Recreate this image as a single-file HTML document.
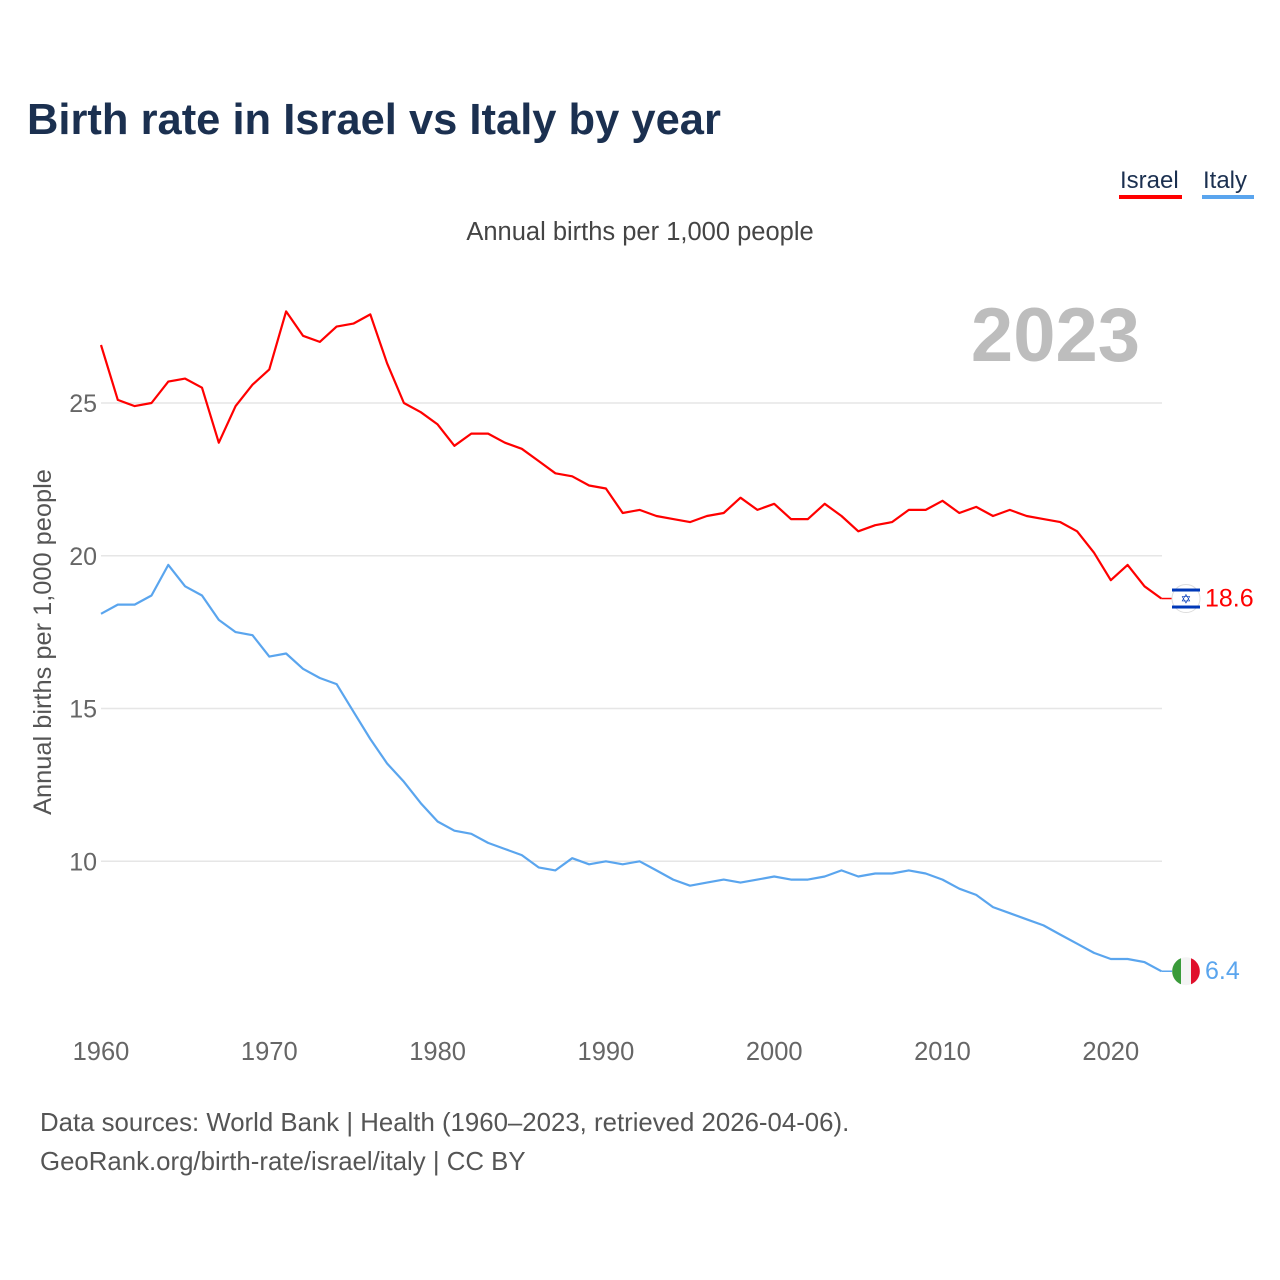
<!DOCTYPE html>
<html><head><meta charset="utf-8"><style>
body{margin:0;background:#fff;font-family:"Liberation Sans",sans-serif}
svg{display:block}
</style></head><body>
<svg id="c" width="1280" height="1280" viewBox="0 0 1280 1280">
<text x="27" y="134" font-size="43.5" font-weight="bold" fill="#1b3050">Birth rate in Israel vs Italy by year</text>
<g>
<text x="1120" y="188" font-size="24" fill="#1b3050">Israel</text>
<rect x="1119" y="195" width="63" height="4" fill="#ff0000"/>
<text x="1203" y="188" font-size="24" fill="#1b3050">Italy</text>
<rect x="1202" y="195" width="52" height="4" fill="#5aa5ee"/>
</g>
<text x="640" y="240" font-size="25.5" fill="#444" text-anchor="middle">Annual births per 1,000 people</text>
<text x="1140" y="361" font-size="76" font-weight="bold" fill="#bdbdbd" text-anchor="end">2023</text>
<text transform="translate(51,642) rotate(-90)" font-size="25.4" fill="#555" text-anchor="middle">Annual births per 1,000 people</text>
<g id="grid"></g><g id="lines"></g><g id="ends"></g>
<text x="40" y="1131" font-size="25.8" fill="#555">Data sources: World Bank | Health (1960–2023, retrieved 2026-04-06).</text>
<text x="40" y="1170" font-size="25.8" fill="#555">GeoRank.org/birth-rate/israel/italy | CC BY</text>
</svg>
<script>
const years=[];for(let y=1960;y<=2023;y++)years.push(y);
const israel=[26.9,25.1,24.9,25.0,25.7,25.8,25.5,23.7,24.9,25.6,26.1,28.0,27.2,27.0,27.5,27.6,27.9,26.3,25.0,24.7,24.3,23.6,24.0,24.0,23.7,23.5,23.1,22.7,22.6,22.3,22.2,21.4,21.5,21.3,21.2,21.1,21.3,21.4,21.9,21.5,21.7,21.2,21.2,21.7,21.3,20.8,21.0,21.1,21.5,21.5,21.8,21.4,21.6,21.3,21.5,21.3,21.2,21.1,20.8,20.1,19.2,19.7,19.0,18.6];
const italy=[18.1,18.4,18.4,18.7,19.7,19.0,18.7,17.9,17.5,17.4,16.7,16.8,16.3,16.0,15.8,14.9,14.0,13.2,12.6,11.9,11.3,11.0,10.9,10.6,10.4,10.2,9.8,9.7,10.1,9.9,10.0,9.9,10.0,9.7,9.4,9.2,9.3,9.4,9.3,9.4,9.5,9.4,9.4,9.5,9.7,9.5,9.6,9.6,9.7,9.6,9.4,9.1,8.9,8.5,8.3,8.1,7.9,7.6,7.3,7.0,6.8,6.8,6.7,6.4];
const yTicks=[10,15,20,25];
const xTicks=[1960,1970,1980,1990,2000,2010,2020];
const X=y=>101+(y-1960)*16.83;
const Y=v=>403-(v-25)*30.55;
const NS="http://www.w3.org/2000/svg";
function mk(t,a,p){const e=document.createElementNS(NS,t);for(const k in a)e.setAttribute(k,a[k]);p.appendChild(e);return e;}
const grid=document.getElementById('grid'),lines=document.getElementById('lines'),ends=document.getElementById('ends');
yTicks.forEach(v=>{
 const l=mk('line',{x1:101,x2:1162,y1:Y(v),y2:Y(v),stroke:'#e6e6e6','stroke-width':1.5},grid);
 
 
 const t=mk('text',{x:97,y:Y(v)+9,'font-size':25,fill:'#666','text-anchor':'end'},grid);t.textContent=v;
 
 
});
xTicks.forEach(y=>{
 const t=mk('text',{x:X(y),y:1060,'font-size':25.5,fill:'#666','text-anchor':'middle'},grid);t.textContent=y;
 
 
});
function series(vals,color,name,lab,flag){
 const d=vals.map((v,i)=>(i?'L':'M')+X(years[i]).toFixed(1)+','+Y(v).toFixed(1)).join('');
 const p=mk('path',{d:d,fill:'none',stroke:color,'stroke-width':2.2,'stroke-linejoin':'round'},lines);
 
 
 const lx=X(years[years.length-1]),ly=Y(vals[vals.length-1]);
 mk('line',{x1:lx,x2:lx+12,y1:ly,y2:ly,stroke:color,'stroke-width':1.5},ends);
 const g=mk('g',{},ends);
 
 
 flag(g,1186,ly);
 const t=mk('text',{x:1205,y:ly+8,'font-size':25,fill:color},ends);t.textContent=lab;
 
 
}
series(israel,'#ff0000','israel','18.6',(g,cx,cy)=>{
 mk('circle',{cx,cy,r:14,fill:'#fff',stroke:'#ddd'},g);
 mk('rect',{x:cx-14,y:cy-10,width:28,height:3,fill:'#0038b8'},g);
 mk('rect',{x:cx-14,y:cy+7,width:28,height:3,fill:'#0038b8'},g);
 const t=mk('text',{x:cx,y:cy+5,'font-size':13,fill:'#0038b8','text-anchor':'middle'},g);t.textContent='✡';
});
series(italy,'#5aa5ee','italy','6.4',(g,cx,cy)=>{
 mk('circle',{cx,cy,r:14,fill:'#f4f4f4'},g);
 mk('path',{d:`M${cx-5},${cy-13}A14,14 0 0 0 ${cx-5},${cy+13}Z`,fill:'#3a9b3a'},g);
 mk('path',{d:`M${cx+5},${cy-13}A14,14 0 0 1 ${cx+5},${cy+13}Z`,fill:'#e0102c'},g);
});
</script>
</body></html>
